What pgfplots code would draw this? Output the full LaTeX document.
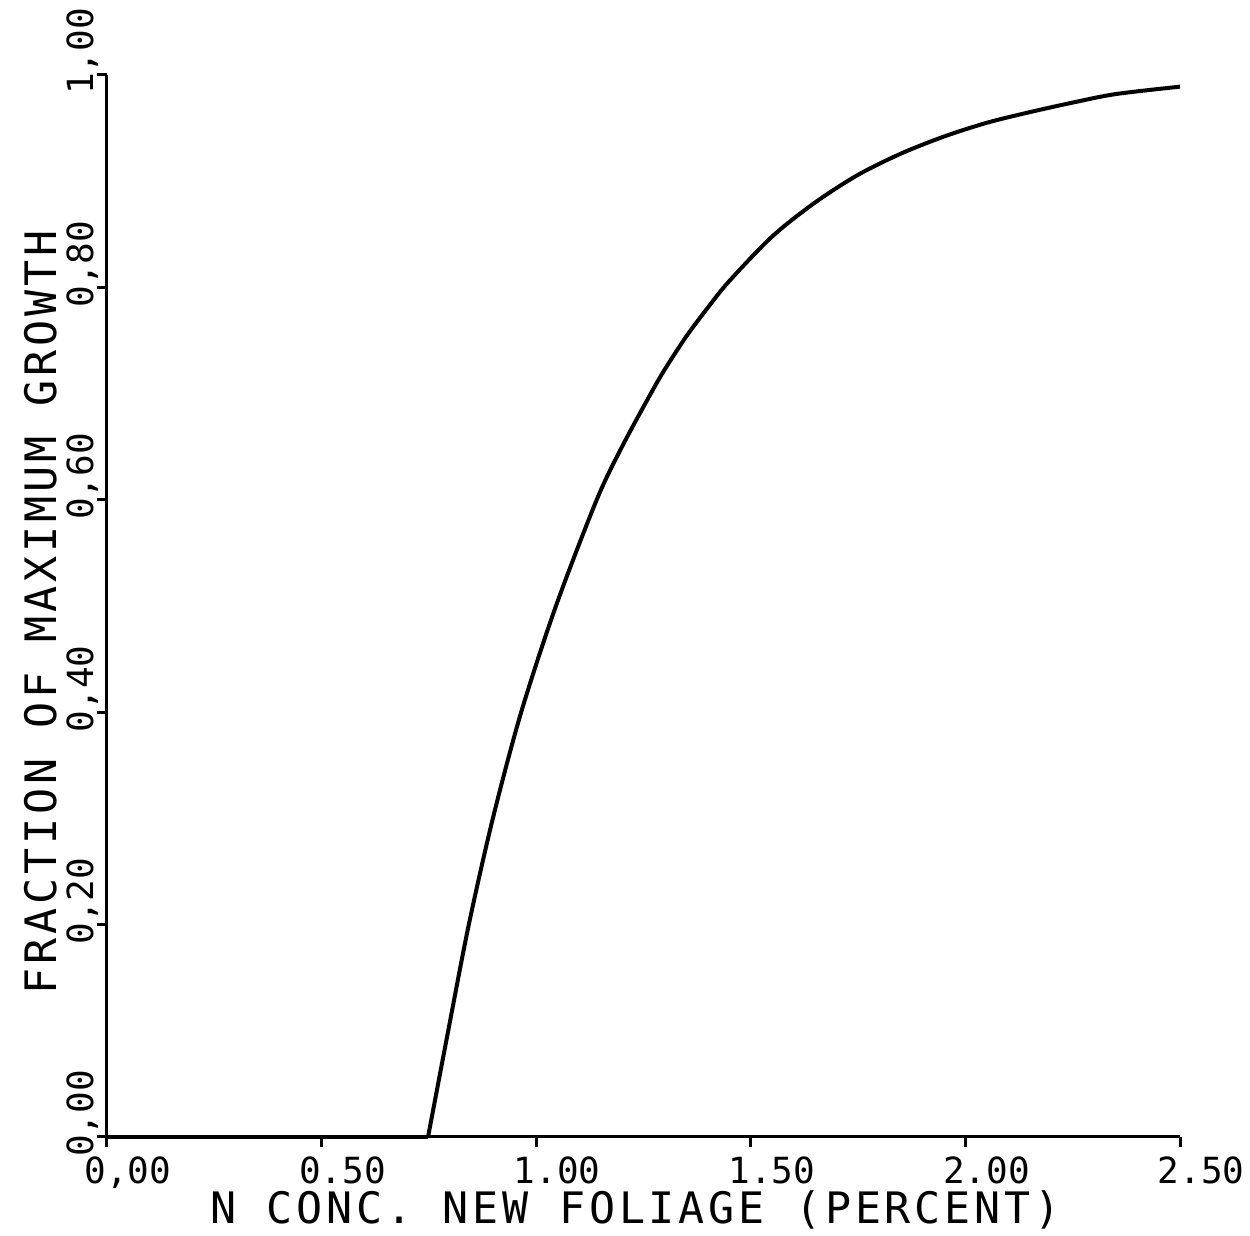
\documentclass[border=0pt]{standalone}
\usepackage{fontspec}
\setmainfont{DejaVu Sans Mono}
\newfontfamily\labfont[LetterSpace=9]{DejaVu Sans Mono}
\usepackage{pgfplots}
\pgfplotsset{compat=1.18}

\begin{document}
\begin{tikzpicture}
% page area around the axis box (axis box has its lower left corner at the origin)
\path[use as bounding box] (-32.1pt,-29.7pt) rectangle (342.9pt,341.1pt);
\begin{axis}[
  scale only axis,
  width=321.9pt, height=318.6pt,
  xmin=0, xmax=2.5, ymin=0, ymax=1,
  axis x line*=bottom, axis y line*=left,
  axis line style={line width=0.9pt, -},
  tick style={line width=0.9pt, black},
  tick align=outside,
  major tick length=3pt,
  xtick={0,0.5,1,1.5,2,2.5},
  xticklabels={{0,00},0.50,1.00,1.50,2.00,2.50},
  ytick={0,0.2,0.4,0.6,0.8,1},
  yticklabels={{0,00},{0,20},{0,40},{0,60},{0,80},{1,00}},
  xticklabel style={font=\fontsize{10.8}{12}\selectfont, xshift=6.3pt, yshift=0.6pt},
  yticklabel style={font=\fontsize{10.8}{12}\selectfont, rotate=90, anchor=south, xshift=7pt, yshift=-3.9pt},
  xlabel={N CONC. NEW FOLIAGE (PERCENT)},
  ylabel={FRACTION OF MAXIMUM GROWTH},
  label style={font=\labfont\fontsize{13}{15}\selectfont},
  xlabel style={at={(axis description cs:0.493,-0.069)}, anchor=center},
  ylabel style={at={(axis description cs:-0.062,0.494)}, anchor=center},
  clip=false,
]
% growth is zero below the critical concentration
\addplot[black, line width=1.2pt] coordinates {(0,0) (0.748,0)};
% response curve above the critical concentration
\addplot[black, line width=1.2pt, smooth] coordinates {
  (0.748,0.000) (0.795,0.100) (0.843,0.200) (0.899,0.300) (0.965,0.400)
  (1.046,0.500) (1.141,0.600) (1.200,0.650) (1.267,0.700) (1.300,0.723)
  (1.350,0.754) (1.400,0.781) (1.450,0.806) (1.550,0.848) (1.650,0.880)
  (1.750,0.906) (1.850,0.926) (1.950,0.942) (2.050,0.955) (2.150,0.965)
  (2.250,0.974) (2.350,0.982) (2.500,0.989)
};
\end{axis}
\end{tikzpicture}
\end{document}
